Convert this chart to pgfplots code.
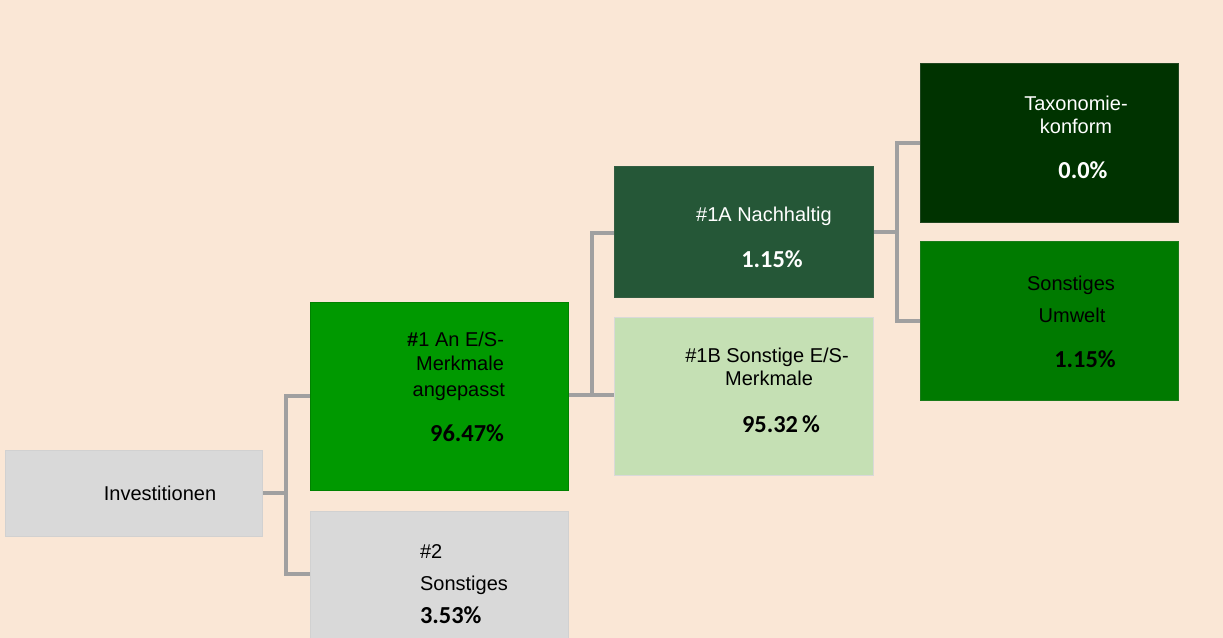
\documentclass[border=0pt]{standalone}
\usepackage{pgfplots}
\pgfplotsset{compat=1.18}
\usepackage{fontspec}
\setmainfont{Liberation Sans}
\newfontfamily\pctfont{Carlito}

\definecolor{peach}{RGB}{250,231,214}
\definecolor{boxgrey}{RGB}{217,217,217}
\definecolor{linegrey}{RGB}{160,160,160}
\definecolor{esgreen}{RGB}{0,153,0}
\definecolor{nachgreen}{RGB}{37,87,55}
\definecolor{lightgreen}{RGB}{197,224,180}
\definecolor{taxgreen}{RGB}{0,51,0}
\definecolor{umweltgreen}{RGB}{0,122,0}
\definecolor{txt}{RGB}{30,30,30}

\newcommand{\pct}[1]{{\pctfont\bfseries\fontsize{12.2}{14}\selectfont #1}}

\begin{document}
\begin{tikzpicture}
\begin{axis}[
  scale only axis, width=611.5pt, height=319pt,
  xmin=0, xmax=1223, ymin=0, ymax=638, y dir=reverse,
  hide axis, clip=true,
  conn/.style={draw=linegrey, line width=2pt, line join=miter},
  box/.style={line width=0.5pt},
  every node/.append style={font=\fontsize{10.4}{12}\selectfont, inner sep=0pt, text=txt},
]
% background
\addplot[fill=peach, draw=none] coordinates {(0,0) (1223,0) (1223,638) (0,638)} -- cycle;

% connectors
\addplot[conn] coordinates {(262,493) (286,493)};
\addplot[conn] coordinates {(310,396) (286,396) (286,574) (310,574)};
\addplot[conn] coordinates {(568,395) (614,395)};
\addplot[conn] coordinates {(592,395) (592,233) (614,233)};
\addplot[conn] coordinates {(873,232) (897,232)};
\addplot[conn] coordinates {(920,143) (897,143) (897,321) (920,321)};

% boxes
\addplot[box, fill=boxgrey, draw=black!18] coordinates {(5,450) (262,450) (262,536) (5,536)} -- cycle;
\addplot[box, fill=esgreen, draw=esgreen!85!black] coordinates {(310,302) (568,302) (568,490) (310,490)} -- cycle;
\addplot[box, fill=boxgrey, draw=black!18] coordinates {(310,511) (568,511) (568,660) (310,660)} -- cycle;
\addplot[box, fill=nachgreen, draw=nachgreen!85!gray] coordinates {(614,166) (873,166) (873,297) (614,297)} -- cycle;
\addplot[box, fill=lightgreen, draw=black!15] coordinates {(614,317) (873,317) (873,475) (614,475)} -- cycle;
\addplot[box, fill=taxgreen, draw=taxgreen!75!gray] coordinates {(920,63) (1178,63) (1178,222) (920,222)} -- cycle;
\addplot[box, fill=umweltgreen, draw=umweltgreen!80!gray] coordinates {(920,241) (1178,241) (1178,400) (920,400)} -- cycle;

% labels
\node[anchor=base] at (160,500) {Investitionen};

\node[anchor=base east, text=black] at (511,346) {\textbf{\#}1 An E/S-};
\node[anchor=base east, text=black] at (511,370) {Merkmale};
\node[anchor=base east, text=black] at (512,396) {angepasst};
\node[anchor=base east, text=black] at (511,441) {\pct{96.47\%}};

\node[anchor=base west] at (413,558) {\#2};
\node[anchor=base west] at (413,590) {Sonstiges};
\node[anchor=base west, text=black] at (413,623) {\pct{3.53\%}};

\node[anchor=base, text=white] at (764,221) {\#1A Nachhaltig};
\node[anchor=base, text=white] at (772,267) {\pct{1.15\%}};

\node[anchor=base] at (767,362) {\#1B Sonstige E/S-};
\node[anchor=base] at (769,385) {Merkmale};
\node[anchor=base, text=black] at (781,432) {\pct{95.32\,\%}};

\node[anchor=base, text=white] at (1076,110) {Taxonomie-};
\node[anchor=base, text=white] at (1076,133) {konform};
\node[anchor=base, text=white] at (1083,178) {\pct{0.0\%}};

\node[anchor=base, text=black] at (1071,290) {Sonstiges};
\node[anchor=base, text=black] at (1072,322) {Umwelt};
\node[anchor=base, text=black] at (1085,367) {\pct{1.15\%}};
\end{axis}
\end{tikzpicture}
\end{document}
